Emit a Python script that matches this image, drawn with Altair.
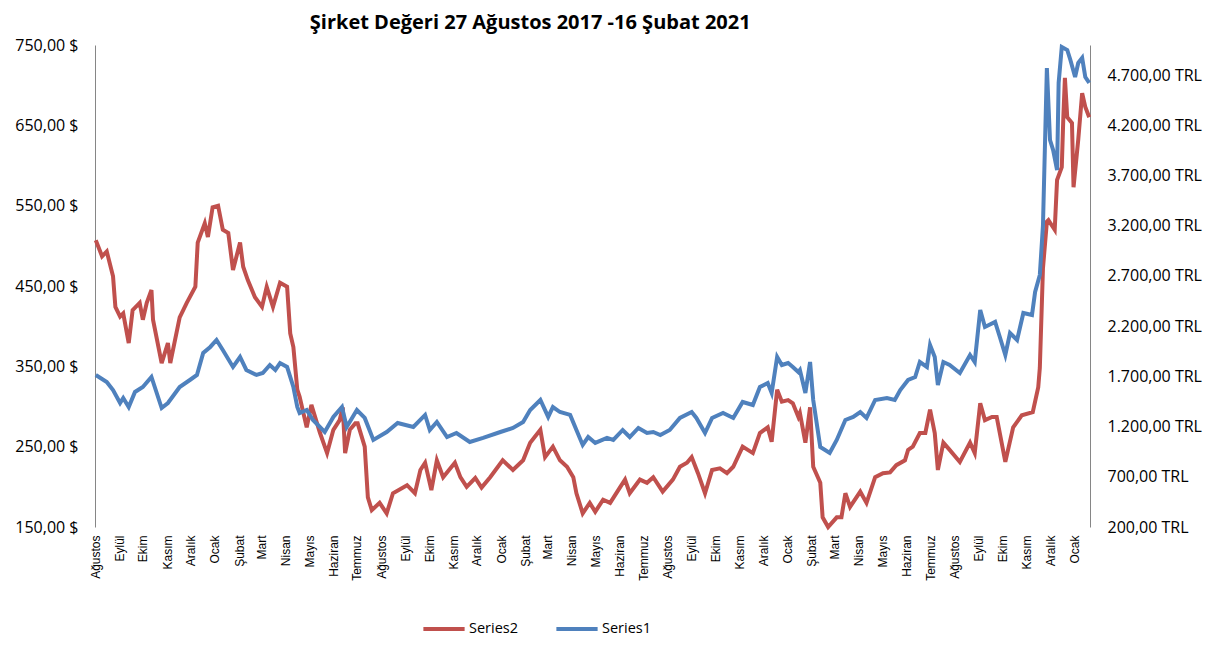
import altair as alt
import pandas as pd

# Days since 27 Aug 2017 and values
red_days = [1, 9, 15, 23, 26, 32, 36, 43, 48, 57, 61, 66, 72, 74, 85, 93, 96, 108, 117, 128,
            131, 140, 144, 150, 157, 163, 170, 176, 185, 189, 195, 204, 213, 219, 227, 236, 245, 249, 253, 258,
            261, 270, 276, 287, 296, 304, 312, 316, 319, 325, 332, 335, 344, 348, 353, 363, 372, 380, 398, 408,
            415, 421, 429, 436, 444, 459, 466, 474, 485, 493, 504, 520, 533, 546, 555, 568, 574, 584, 593, 602,
            610, 614, 622, 631, 638, 648, 657, 670, 676, 682, 695, 704, 712, 724, 737, 746, 755, 761, 769, 778,
            787, 797, 806, 814, 826, 839, 848, 858, 863, 870, 876, 884, 890, 897, 899, 906, 912, 916, 925, 928,
            935, 946, 952, 957, 963, 976, 984, 995, 1005, 1014, 1022, 1033, 1037, 1043, 1052, 1059, 1065, 1071, 1075, 1082,
            1090, 1103, 1116, 1122, 1129, 1135, 1144, 1150, 1161, 1171, 1182, 1196, 1203, 1205, 1209, 1214, 1216, 1224, 1227, 1233,
            1235, 1237, 1240, 1246, 1248, 1254, 1259, 1263, 1268]
red_usd = [507, 487, 493, 462, 424, 412, 416, 379, 420, 429, 408, 429, 445, 408, 354, 379, 354, 411, 429, 449,
           504, 528, 511, 548, 550, 520, 516, 470, 504, 474, 457, 436, 424, 449, 424, 454, 449, 391, 374, 321,
           312, 274, 302, 267, 242, 271, 283, 299, 242, 271, 279, 279, 250, 187, 171, 180, 167, 192, 202, 192,
           221, 230, 196, 233, 212, 230, 212, 200, 211, 199, 212, 233, 221, 233, 255, 271, 237, 250, 233, 225,
           212, 192, 167, 180, 169, 184, 180, 200, 209, 192, 209, 205, 212, 194, 209, 225, 230, 237, 217, 192,
           221, 223, 217, 225, 250, 242, 267, 274, 256, 321, 306, 308, 304, 287, 292, 255, 299, 225, 205, 162,
           150, 162, 162, 192, 175, 194, 180, 212, 217, 218, 227, 233, 246, 250, 267, 267, 296, 267, 221, 255,
           246, 231, 255, 242, 304, 283, 287, 287, 231, 274, 289, 293, 324, 348, 472, 530, 532, 520, 582, 598,
           660, 709, 660, 653, 573, 632, 690, 673, 660]

blue_days = [1, 15, 23, 32, 36, 43, 51, 61, 72, 85, 93, 108, 121, 130, 138, 147, 155, 163, 176, 185,
             193, 206, 214, 223, 230, 236, 245, 253, 258, 261, 270, 278, 293, 304, 315, 321, 334, 344, 355, 372,
             386, 406, 421, 427, 436, 449, 461, 478, 495, 517, 533, 546, 555, 568, 578, 584, 593, 606, 614, 622,
             629, 638, 653, 661, 673, 682, 693, 704, 712, 721, 733, 746, 761, 767, 778, 787, 801, 814, 826, 839,
             848, 858, 863, 870, 876, 884, 890, 897, 899, 906, 912, 916, 925, 937, 946, 957, 967, 976, 984, 995,
             1010, 1020, 1027, 1037, 1046, 1052, 1061, 1065, 1071, 1075, 1082, 1090, 1103, 1116, 1122, 1129, 1135, 1148, 1154, 1161,
             1167, 1176, 1184, 1195, 1199, 1205, 1209, 1214, 1218, 1222, 1227, 1229, 1233, 1240, 1244, 1250, 1254, 1259, 1263, 1268]
blue_trl = [1714, 1644, 1564, 1435, 1485, 1395, 1545, 1594, 1694, 1385, 1435, 1594, 1664, 1714, 1933, 1993, 2062, 1963, 1794, 1893,
            1764, 1714, 1734, 1813, 1764, 1833, 1794, 1594, 1395, 1335, 1365, 1266, 1146, 1296, 1395, 1196, 1365, 1286, 1067, 1146,
            1236, 1196, 1316, 1166, 1246, 1096, 1136, 1047, 1087, 1146, 1186, 1246, 1365, 1465, 1296, 1395, 1345, 1316, 1166, 1017,
            1096, 1037, 1087, 1067, 1166, 1096, 1186, 1136, 1146, 1116, 1166, 1286, 1345, 1286, 1136, 1286, 1335, 1286, 1445, 1415,
            1594, 1634, 1535, 1893, 1813, 1833, 1794, 1744, 1764, 1535, 1843, 1465, 997, 937, 1067, 1266, 1296, 1345, 1286, 1465,
            1485, 1465, 1564, 1664, 1694, 1843, 1794, 2013, 1893, 1614, 1843, 1813, 1734, 1913, 1843, 2361, 2192, 2242, 2092, 1913,
            2132, 2062, 2331, 2311, 2540, 2710, 3200, 4771, 4054, 3954, 3755, 4622, 4980, 4950, 4851, 4681, 4821, 4871, 4681, 4622]

month_names = ['Ocak', 'Şubat', 'Mart', 'Nisan', 'Mayıs', 'Haziran', 'Temmuz',
               'Ağustos', 'Eylül', 'Ekim', 'Kasım', 'Aralık']

base = pd.Timestamp("2017-08-27")
red_df = pd.DataFrame({
    "date": [(base + pd.Timedelta(days=d)).strftime("%Y-%m-%d") for d in red_days],
    "value": red_usd, "series": "Series2"})
blue_df = pd.DataFrame({
    "date": [(base + pd.Timedelta(days=d)).strftime("%Y-%m-%d") for d in blue_days],
    "value": blue_trl, "series": "Series1"})

# tick values on the 27th of each month, Aug 2017 .. Jan 2021
tick_vals = []
y, m = 2017, 8
while (y, m) <= (2021, 1):
    tick_vals.append(alt.DateTime(year=y, month=m, date=27))
    m += 1
    if m > 12:
        m, y = 1, y + 1

names_js = "[" + ",".join("'" + n + "'" for n in month_names) + "]"

x_enc = alt.X("date:T",
              scale=alt.Scale(domain=[alt.DateTime(year=2017, month=8, date=27),
                                      alt.DateTime(year=2021, month=2, date=16)]),
              axis=alt.Axis(values=tick_vals, labelExpr=names_js + "[month(datum.value)]",
                            labelAngle=-90, title=None, domain=False, ticks=False, grid=False,
                            labelFont="Liberation Sans", labelFontSize=12, labelColor="#000000",
                            labelPadding=8, labelOverlap=False, labelBound=False, labelFlush=False))

color_enc = alt.Color("series:N",
                      scale=alt.Scale(domain=["Series2", "Series1"], range=["#C0504D", "#4F81BD"]),
                      legend=alt.Legend(title=None, orient="none", direction="horizontal",
                                        legendX=326, legendY=561, symbolType="stroke",
                                        symbolSize=1700, symbolStrokeWidth=4, columnPadding=29,
                                        labelFont="Open Sans", labelFontSize=14.5, labelColor="#000000",
                                        labelOffset=2))

red = alt.Chart(red_df).mark_line(strokeWidth=4).encode(
    x=x_enc,
    y=alt.Y("value:Q", scale=alt.Scale(domain=[150, 750], nice=False, zero=False),
            axis=alt.Axis(orient="left", values=[150, 250, 350, 450, 550, 650, 750],
                          labelExpr="replace(format(datum.value, '.2f'), '.', ',') + ' $'",
                          title=None, grid=False, ticks=False, domainColor="#868686",
                          labelFont="Open Sans", labelFontSize=16, labelColor="#000000", labelPadding=17)),
    color=color_enc)

blue = alt.Chart(blue_df).mark_line(strokeWidth=4).encode(
    x=x_enc,
    y=alt.Y("value:Q", scale=alt.Scale(domain=[200, 5000], nice=False, zero=False),
            axis=alt.Axis(orient="right", values=[200, 700, 1200, 1700, 2200, 2700, 3200, 3700, 4200, 4700],
                          labelExpr="replace(replace(replace(format(datum.value, ',.2f'), ',', '#'), '.', ','), '#', '.') + ' TRL'",
                          title=None, grid=False, ticks=False, domainColor="#868686",
                          labelFont="Open Sans", labelFontSize=16, labelColor="#000000", labelPadding=17)),
    color=color_enc)

chart = alt.layer(red, blue).resolve_scale(y="independent").properties(
    width=995, height=482,
    title=alt.TitleParams("Şirket Değeri 27 Ağustos 2017 -16 Şubat 2021", anchor="start",
                          dx=295, offset=4, font="Open Sans", fontSize=20, fontWeight="bold",
                          color="#000000"),
    autosize=alt.AutoSizeParams(type="none"),
    padding={"left": 87, "top": 37, "right": 126, "bottom": 111},
).configure_view(stroke=None)

chart.save("out.html", embed_options={"renderer": "svg", "actions": False})
